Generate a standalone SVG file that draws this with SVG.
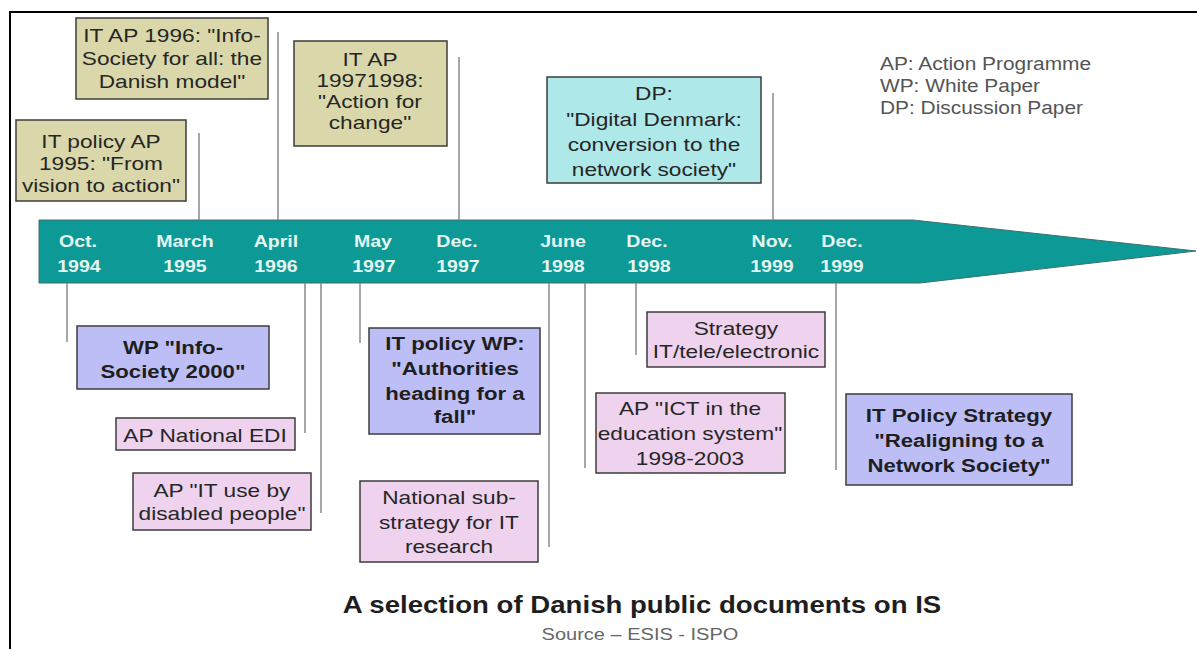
<svg xmlns="http://www.w3.org/2000/svg" width="1197" height="649" viewBox="0 0 1197 649">
<style>
.box{stroke:#3c3c3c;stroke-width:1.5}
.khaki{fill:#dad8aa}
.cyan{fill:#aee8e8}
.blue{fill:#bebef6}
.pink{fill:#eed2ee}
text{font-family:"Liberation Sans",Arial,sans-serif}
.t{font-size:18px;fill:#262626;text-anchor:middle;transform-box:fill-box;transform-origin:center;transform:scaleX(1.26)}
.b{font-weight:bold;font-size:18.5px;fill:#1e1e1e;transform:scaleX(1.2)}
.d{font-weight:bold;font-size:17px;fill:#e4f5f2;transform:scaleX(1.15)}
.cap{font-size:24px;font-weight:bold;fill:#1e1e1e;transform:scaleX(1.15)}
.src{font-size:16px;fill:#666;transform:scaleX(1.25)}
.leg{font-size:18px;fill:#555}
.conn line{stroke:#8a8a8a;stroke-width:1.5}
</style>
<rect x="0" y="0" width="1197" height="649" fill="#ffffff"/>
<g id="frame" stroke="#000" stroke-width="2" fill="none">
<path d="M10 649 V12 H1197"/>
</g>
<g id="timeline">
<polygon points="39,220 913,220 1196,251 920,283 39,283" fill="#0d9a96" stroke="#3e6f6d" stroke-width="1"/>
<text class="t d" x="78" y="247">Oct.</text><text class="t d" x="79" y="272">1994</text>
<text class="t d" x="185" y="247">March</text><text class="t d" x="185" y="272">1995</text>
<text class="t d" x="276" y="247">April</text><text class="t d" x="276" y="272">1996</text>
<text class="t d" x="373" y="247">May</text><text class="t d" x="374" y="272">1997</text>
<text class="t d" x="457" y="247">Dec.</text><text class="t d" x="458" y="272">1997</text>
<text class="t d" x="563" y="247">June</text><text class="t d" x="563" y="272">1998</text>
<text class="t d" x="647" y="247">Dec.</text><text class="t d" x="649" y="272">1998</text>
<text class="t d" x="772" y="247">Nov.</text><text class="t d" x="772" y="272">1999</text>
<text class="t d" x="842" y="247">Dec.</text><text class="t d" x="842" y="272">1999</text>
</g>
<g id="connectors" class="conn">
<line x1="199" y1="133" x2="199" y2="220"/>
<line x1="278" y1="32" x2="278" y2="220"/>
<line x1="459" y1="57" x2="459" y2="220"/>
<line x1="773" y1="93" x2="773" y2="220"/>
<line x1="67" y1="283" x2="67" y2="342"/>
<line x1="305" y1="283" x2="305" y2="433"/>
<line x1="321" y1="283" x2="321" y2="513"/>
<line x1="360" y1="283" x2="360" y2="343"/>
<line x1="549" y1="283" x2="549" y2="547"/>
<line x1="585" y1="283" x2="585" y2="468"/>
<line x1="636" y1="283" x2="636" y2="355"/>
<line x1="836" y1="283" x2="836" y2="470"/>
</g>
<g id="n-ap1995">
<rect class="box khaki" x="16" y="120" width="170" height="81"/>
<text class="t" x="101" y="148">IT policy AP</text>
<text class="t" x="101" y="170">1995: "From</text>
<text class="t" x="101" y="192">vision to action"</text>
</g>
<g id="n-ap1996">
<rect class="box khaki" x="76" y="18" width="192" height="81"/>
<text class="t" x="172" y="42">IT AP 1996: "Info-</text>
<text class="t" x="172" y="65">Society for all: the</text>
<text class="t" x="172" y="88">Danish model"</text>
</g>
<g id="n-ap1997">
<rect class="box khaki" x="294" y="41" width="153" height="105"/>
<text class="t" x="370" y="66">IT AP</text>
<text class="t" x="370" y="87">19971998:</text>
<text class="t" x="370" y="108">"Action for</text>
<text class="t" x="370" y="129">change"</text>
</g>
<g id="n-dp1999">
<rect class="box cyan" x="547" y="77" width="214" height="106"/>
<text class="t" x="654" y="100">DP:</text>
<text class="t" x="654" y="126">"Digital Denmark:</text>
<text class="t" x="654" y="151">conversion to the</text>
<text class="t" x="654" y="176">network society"</text>
</g>
<g id="legend" transform="translate(880 0) scale(1.16 1)">
<text class="leg" x="0" y="70">AP: Action Programme</text>
<text class="leg" x="0" y="92">WP: White Paper</text>
<text class="leg" x="0" y="114">DP: Discussion Paper</text>
</g>
<g id="n-wp1994">
<rect class="box blue" x="77" y="326" width="192" height="63"/>
<text class="t b" x="173" y="354">WP "Info-</text>
<text class="t b" x="173" y="378">Society 2000"</text>
</g>
<g id="n-edi">
<rect class="box pink" x="116" y="418" width="179" height="32"/>
<text class="t" x="205" y="442">AP National EDI</text>
</g>
<g id="n-disabled">
<rect class="box pink" x="133" y="473" width="178" height="57"/>
<text class="t" x="222" y="497">AP "IT use by</text>
<text class="t" x="222" y="520">disabled people"</text>
</g>
<g id="n-wp1997">
<rect class="box blue" x="369" y="328" width="171" height="106"/>
<text class="t b" x="455" y="350">IT policy WP:</text>
<text class="t b" x="455" y="375">"Authorities</text>
<text class="t b" x="455" y="400">heading for a</text>
<text class="t b" x="455" y="423">fall"</text>
</g>
<g id="n-research">
<rect class="box pink" x="360" y="481" width="178" height="81"/>
<text class="t" x="449" y="504">National sub-</text>
<text class="t" x="449" y="529">strategy for IT</text>
<text class="t" x="449" y="553">research</text>
</g>
<g id="n-strategy1998">
<rect class="box pink" x="647" y="312" width="178" height="55"/>
<text class="t" x="736" y="335">Strategy</text>
<text class="t" x="736" y="358">IT/tele/electronic</text>
</g>
<g id="n-ict">
<rect class="box pink" x="596" y="393" width="189" height="80"/>
<text class="t" x="690" y="415">AP "ICT in the</text>
<text class="t" x="690" y="440">education system"</text>
<text class="t" x="690" y="465">1998-2003</text>
</g>
<g id="n-strategy1999">
<rect class="box blue" x="846" y="394" width="226" height="91"/>
<text class="t b" x="959" y="422">IT Policy Strategy</text>
<text class="t b" x="959" y="447">"Realigning to a</text>
<text class="t b" x="959" y="472">Network Society"</text>
</g>
<g id="caption">
<text class="t cap" x="642" y="613">A selection of Danish public documents on IS</text>
<text class="t src" x="640" y="640">Source – ESIS - ISPO</text>
</g>
</svg>
